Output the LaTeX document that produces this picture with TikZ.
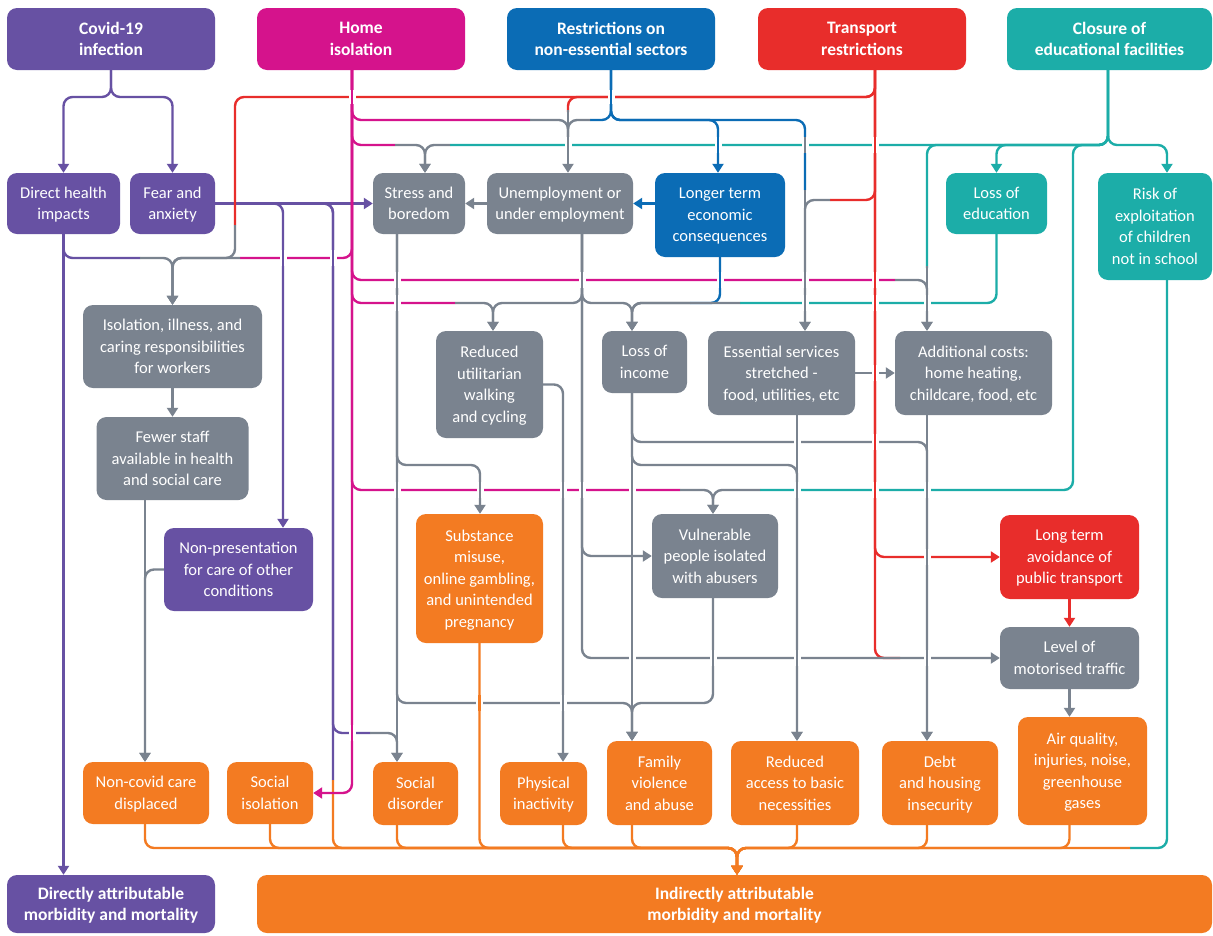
\documentclass[tikz,border=0pt]{standalone}
\usepackage{fontspec}
\setmainfont{Carlito}
\usetikzlibrary{arrows.meta}
\definecolor{cP}{RGB}{103,81,163}
\definecolor{cM}{RGB}{213,19,140}
\definecolor{cB}{RGB}{11,108,181}
\definecolor{cR}{RGB}{232,45,43}
\definecolor{cT}{RGB}{28,173,168}
\definecolor{cG}{RGB}{122,131,143}
\definecolor{cO}{RGB}{243,123,34}
\newcommand\bodyf{\fontsize{16.5pt}{21.5pt}\selectfont}
\newcommand\titlef{\fontsize{17.5pt}{21.5pt}\selectfont\bfseries}
\tikzset{
  box/.style={rounded corners=10pt, inner sep=0pt, align=center, text=white, font=\bodyf, text depth=0pt},
  tbox/.style={box, font=\titlef, text depth=-4pt},
  pbox/.style={box, fill=cP}, mbox/.style={box, fill=cM}, bbox/.style={box, fill=cB},
  rbox/.style={box, fill=cR}, tebox/.style={box, fill=cT}, gbox/.style={box, fill=cG},
  obox/.style={box, fill=cO},
  ln/.style={line width=2.4pt, rounded corners=9pt},
  arr/.style={-{Triangle[width=11pt,length=9pt]}},
  pl/.style={ln, draw=cP}, ml/.style={ln, draw=cM}, bl/.style={ln, draw=cB},
  rl/.style={ln, draw=cR}, tl/.style={ln, draw=cT}, gl/.style={ln, draw=cG},
  ol/.style={ln, draw=cO},
  over/.style={preaction={draw=white, line width=7pt}}
}
\begin{document}
\begin{tikzpicture}[x=1pt,y=-1pt]
\fill[white] (0,0) rectangle (1213,935);
\useasboundingbox (0,0) rectangle (1213,935);
% column coordinates
\foreach \n in {145,235,270,283,333,352,397,425,480,493,563,568,582,632,713,718,737,797,805,875,927,1108,1167}
  \coordinate (x\n) at (\n,0);
% top row
\node[pbox,tbox,minimum width=208pt,minimum height=62pt] (covid) at (111,39) {Covid-19\\infection};
\node[mbox,tbox,minimum width=208pt,minimum height=62pt] (home) at (361,39) {Home\\isolation};
\node[bbox,tbox,minimum width=208pt,minimum height=62pt] (restr) at (611,39) {Restrictions on\\non-essential sectors};
\node[rbox,tbox,minimum width=208pt,minimum height=62pt] (transport) at (862,39) {Transport\\restrictions};
\node[tebox,tbox,minimum width=205pt,minimum height=62pt] (closure) at (1109.5,39) {Closure of\\educational facilities};
% second row
\node[pbox,minimum width=113pt,minimum height=61pt] (direct) at (63.5,203.5) {Direct health\\impacts};
\node[pbox,minimum width=85pt,minimum height=61pt] (fear) at (172.5,203.5) {Fear and\\anxiety};
\node[gbox,minimum width=92pt,minimum height=61pt] (stress) at (419,203.5) {Stress and\\boredom};
\node[gbox,minimum width=146pt,minimum height=61pt] (unemp) at (560,203.5) {Unemployment or\\under employment};
\node[bbox,minimum width=130pt,minimum height=84pt] (longer) at (720,215) {Longer term\\economic\\consequences};
\node[tebox,minimum width=101pt,minimum height=61pt] (lossedu) at (996.5,203.5) {Loss of\\education};
\node[tebox,minimum width=114pt,minimum height=107pt] (risk) at (1155,226.5) {Risk of\\exploitation\\of children\\not in school};
% middle
\node[gbox,minimum width=179pt,minimum height=83pt] (isolation) at (172.5,346.5) {Isolation, illness, and\\caring responsibilities\\for workers};
\node[gbox,minimum width=152pt,minimum height=83pt] (fewer) at (172.5,458.5) {Fewer staff\\available in health\\and social care};
\node[pbox,minimum width=149pt,minimum height=83pt] (nonpres) at (238.5,569.5) {Non-presentation\\for care of other\\conditions};
\node[gbox,minimum width=107pt,minimum height=107pt] (reduced) at (489.5,384.5) {Reduced\\utilitarian\\walking\\and cycling};
\node[gbox,minimum width=85pt,minimum height=62pt] (income) at (644.5,362) {Loss of\\income};
\node[gbox,minimum width=147pt,minimum height=84pt] (essential) at (781.5,373) {Essential services\\stretched -\\food, utilities, etc};
\node[gbox,minimum width=157pt,minimum height=84pt] (addcost) at (973.5,373) {Additional costs:\\home heating,\\childcare, food, etc};
\node[obox,minimum width=127pt,minimum height=129pt] (substance) at (479.5,578.5) {Substance\\misuse,\\online gambling,\\and unintended\\pregnancy};
\node[gbox,minimum width=126pt,minimum height=84pt] (vulnerable) at (715,556) {Vulnerable\\people isolated\\with abusers};
\node[rbox,minimum width=139pt,minimum height=84pt] (longterm) at (1069.5,557) {Long term\\avoidance of\\public transport};
\node[gbox,minimum width=139pt,minimum height=62pt] (level) at (1069.5,658) {Level of\\motorised traffic};
% bottom outcomes
\node[obox,minimum width=129pt,minimum height=108pt] (air) at (1082.5,771) {Air quality,\\injuries, noise,\\greenhouse\\gases};
\node[obox,minimum width=116pt,minimum height=84pt] (debt) at (940,783) {Debt\\and housing\\insecurity};
\node[obox,minimum width=128pt,minimum height=84pt] (access) at (795,783) {Reduced\\access to basic\\necessities};
\node[obox,minimum width=105pt,minimum height=84pt] (family) at (659.5,783) {Family\\violence\\and abuse};
\node[obox,minimum width=87pt,minimum height=63pt] (physical) at (543.5,793.5) {Physical\\inactivity};
\node[obox,minimum width=85pt,minimum height=63pt] (socdis) at (415.5,793.5) {Social\\disorder};
\node[obox,minimum width=86pt,minimum height=62pt] (socialiso) at (270,793) {Social\\isolation};
\node[obox,minimum width=126pt,minimum height=62pt] (noncovid) at (146,793) {Non-covid care\\displaced};
\node[pbox,tbox,minimum width=208pt,minimum height=58pt] (directly) at (111,904) {Directly attributable\\morbidity and mortality};
\node[obox,tbox,minimum width=955pt,minimum height=58pt] (indirect) at (734.5,904) {Indirectly attributable\\morbidity and mortality};

% ---- orange collector
\foreach \s/\c in {noncovid/x145,socialiso/x270,socdis/x397,substance/substance,physical/x563,family/x632,access/x797,debt/x927,air/level}
  \draw[ol,arr] (\s.south -| \c) |- (737,848) -- (indirect.north -| x737);
% ---- purple
\draw[pl,arr] (covid.south) -- (111,97) -- (63.5,97) -- (direct.north);
\draw[pl,arr] (covid.south) -- (111,97) -- (172.5,97) -- (fear.north);
\draw[pl,arr] (direct.south) -- (directly.north -| direct.south);
\draw[pl] (direct.south) -- (63.5,258) -- (140,258);
\draw[gl,arr] (140,258) -- (172.5,258) -- (isolation.north);
\draw[pl,arr] (fear.east) -- (stress.west);
\draw[pl,arr] (fear.east) -- (283,203.5) -- (nonpres.north -| x283);
\draw[pl] (fear.east) -- (333,203.5) -- (333,780);
\draw[ol,arr] (333,780) -- (333,848) -- (737,848) -- (indirect.north -| x737);
\draw[pl] (fear.east) -- (333,203.5) -- (333,733) -- (370,733);
\draw[gl,arr] (370,733) -- (397,733) -- (socdis.north -| x397);
% ---- magenta
\draw[ml,arr] (home.south -| x352) -- (352,793) -- (socialiso.east);
\draw[ml] (home.south -| x352) -- (352,120) -- (530,120);
\draw[gl] (530,120) -- (568,120) -- (568,140);
\draw[ml] (home.south -| x352) -- (352,145) -- (395,145);
\draw[gl,arr] (395,145) -- (425,145) -- (stress.north -| x425);
\draw[ml] (home.south -| x352) -- (352,258) -- (240,258);
\draw[gl,arr] (240,258) -- (172.5,258) -- (isolation.north);
\draw[ml] (home.south -| x352) -- (352,280) -- (895,280);
\draw[gl,arr] (895,280) -- (927,280) -- (addcost.north -| x927);
\draw[ml] (home.south -| x352) -- (352,303) -- (455,303);
\draw[gl,arr] (455,303) -- (493,303) -- (reduced.north -| x493);
\draw[ml] (home.south -| x352) -- (352,490) -- (680,490);
\draw[gl,arr] (680,490) -- (713,490) -- (vulnerable.north -| x713);
% ---- blue
\draw[bl] (restr.south) -- (611,120) -- (590,120);
\draw[gl] (590,120) -- (568,120) -- (568,140);
\draw[bl,arr] (restr.south) -- (611,120) -- (718,120) -- (longer.north -| x718);
\draw[bl] (restr.south) -- (611,120) -- (805,120) -- (805,190);
\draw[gl,arr] (805,190) -- (essential.north -| x805);
\draw[bl,arr] (longer.west |- unemp.east) -- (unemp.east);
\draw[bl] (longer.south) -- (720,303) -- (690,303);
\draw[gl,arr] (690,303) -- (632,303) -- (income.north -| x632);
% ---- red
\draw[rl] (transport.south -| x875) -- (875,97) -- (235,97) -- (235,225);
\draw[gl,arr] (235,225) -- (235,258) -- (172.5,258) -- (isolation.north);
\draw[rl] (transport.south -| x875) -- (875,97) -- (568,97) -- (568,112);
\draw[gl,arr] (568,110) -- (unemp.north -| x568);
\draw[rl] (transport.south -| x875) -- (875,200) -- (830,200);
\draw[gl,arr] (830,200) -- (805,200) -- (essential.north -| x805);
\draw[rl,arr] (transport.south -| x875) -- (875,557) -- (longterm.west);
\draw[rl] (transport.south -| x875) -- (875,658) -- (900,658);
\draw[rl,arr] (longterm.south) -- (level.north);
% ---- teal
\draw[tl,arr] (closure.south -| x1108) -- (1108,145) -- (1167,145) -- (risk.north -| x1167);
\draw[tl,arr] (closure.south -| x1108) -- (1108,145) -- (996.5,145) -- (lossedu.north);
\draw[tl] (closure.south -| x1108) -- (1108,145) -- (927,145) -- (927,268);
\draw[gl,arr] (927,266) -- (addcost.north -| x927);
\draw[tl] (closure.south -| x1108) -- (1108,145) -- (1073,145) -- (1073,490) -- (760,490);
\draw[gl,arr] (760,490) -- (713,490) -- (vulnerable.north -| x713);
\draw[tl] (closure.south -| x1108) -- (1108,145) -- (450,145);
\draw[gl,arr] (450,145) -- (425,145) -- (stress.north -| x425);
\draw[tl] (lossedu.south) -- (996.5,303) -- (740,303);
\draw[gl,arr] (740,303) -- (632,303) -- (income.north -| x632);
\draw[tl] (risk.south -| x1167) -- (1167,848) -- (1130,848);
\draw[ol,arr] (1130,848) -- (737,848) -- (indirect.north -| x737);
% ---- gray
\draw[gl,arr] (unemp.west) -- (stress.east);
\draw[gl,arr] (unemp.south -| x582) -- (582,303) -- (493,303) -- (reduced.north -| x493);
\draw[gl,arr] (unemp.south -| x582) -- (582,303) -- (632,303) -- (income.north -| x632);
\draw[gl,arr] (unemp.south -| x582) -- (582,556) -- (vulnerable.west);
\draw[gl,arr] (unemp.south -| x582) -- (582,658) -- (level.west);
\draw[gl,arr] (stress.south -| x397) -- (397,465) -- (480,465) -- (substance.north -| x480);
\draw[gl,arr] (stress.south -| x397) -- (397,703) -- (632,703) -- (family.north -| x632);
\draw[gl,arr] (stress.south -| x397) -- (socdis.north -| x397);
\draw[gl,arr] (reduced.east) -- (563,384.5) -- (physical.north -| x563);
\draw[gl,arr] (income.south -| x632) -- (family.north -| x632);
\draw[gl,arr] (income.south -| x632) -- (632,442) -- (927,442) -- (debt.north -| x927);
\draw[gl,arr] (income.south -| x632) -- (632,465) -- (797,465) -- (access.north -| x797);
\draw[gl,arr] (essential.south -| x797) -- (access.north -| x797);
\draw[gl,arr] (essential.east) -- (addcost.west);
\draw[gl,arr] (addcost.south -| x927) -- (debt.north -| x927);
\draw[gl,arr] (vulnerable.south -| x713) -- (713,703) -- (632,703) -- (family.north -| x632);
\draw[gl,arr] (level.south) -- (air.north -| level.south);
\draw[gl,arr] (isolation.south) -- (fewer.north);
\draw[gl,arr] (fewer.south -| x145) -- (noncovid.north -| x145);
\draw[gl,arr] (nonpres.west) -- (145,569.5) -- (noncovid.north -| x145);
% ---- crossings (gaps)
\draw[bl,over] (611,90) -- (611,104);
\draw[ml,over] (352,90) -- (352,104);
\draw[pl,over] (283,250) -- (283,266);
\draw[pl,over] (333,250) -- (333,266);
\foreach \x in {397,582,805} \draw[gl,over] (\x,272) -- (\x,288);
\draw[bl,over] (720,272) -- (720,288);
\draw[rl,over] (875,272) -- (875,288);
\draw[gl,over] (397,295) -- (397,311);
\draw[gl,over] (805,295) -- (805,311);
\draw[gl,over] (927,295) -- (927,311);
\draw[rl,over] (875,295) -- (875,311);
\draw[rl,over] (875,137) -- (875,153);
\draw[gl,over] (568,137) -- (568,153);
\draw[bl,over] (718,137) -- (718,153);
\draw[gl,over] (805,137) -- (805,153);
\draw[rl,over] (875,365) -- (875,381);
\draw[gl,over] (797,434) -- (797,450);
\draw[rl,over] (875,434) -- (875,450);
\foreach \x in {397,480,563,582,632,797,927} \draw[gl,over] (\x,482) -- (\x,498);
\draw[rl,over] (875,482) -- (875,498);
\draw[gl,over] (927,549) -- (927,565);
\foreach \x in {632,713,797,927} \draw[gl,over] (\x,650) -- (\x,666);
\draw[ol,over] (479.5,695) -- (479.5,711);
\draw[gl,over] (563,695) -- (563,711);
\draw[ml,over] (352,725) -- (352,741);
\end{tikzpicture}
\end{document}
